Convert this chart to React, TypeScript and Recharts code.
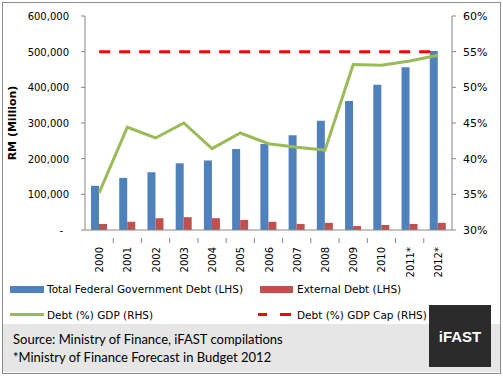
import { ComposedChart, Bar, Line, XAxis, YAxis } from "recharts";

const years = ["2000", "2001", "2002", "2003", "2004", "2005", "2006", "2007", "2008", "2009", "2010", "2011*", "2012*"];
const totalDebt = [124000, 146000, 162000, 187000, 195000, 227000, 241000, 266000, 306000, 362000, 407000, 456000, 502000];
const externalDebt = [17000, 23000, 33000, 36000, 33000, 28000, 23000, 17000, 20000, 11000, 14000, 17000, 20000];
const debtToGdp = [35.2, 44.4, 42.9, 45.0, 41.4, 43.6, 42.1, 41.6, 41.2, 53.2, 53.1, 53.7, 54.5];
const debtCap = [55, 55, 55, 55, 55, 55, 55, 55, 55, 55, 55, 55, 55];
const leftTicks = [0, 100000, 200000, 300000, 400000, 500000, 600000];
const rightTicks = [30, 35, 40, 45, 50, 55, 60];

const data = years.map((year, i) => ({
  year,
  total: totalDebt[i],
  external: externalDebt[i],
  ratio: debtToGdp[i],
  cap: debtCap[i],
}));

const AXIS = "#868686";
const FONT = "'DejaVu Sans', Verdana, sans-serif";

function LeftTick(props: any) {
  const { x, y, payload } = props;
  const zero = payload.value === 0;
  return (
    <text x={zero ? x - 6 : x} y={y} dy={4} textAnchor="end" fontSize={10} fontFamily={FONT} fill="#000">
      {zero ? "-" : payload.value.toLocaleString("en-US")}
    </text>
  );
}

function YearTick(props: any) {
  const { x, y, payload, index } = props;
  const step = 367 / years.length;
  return (
    <g>
      {index < years.length - 1 && (
        <line x1={x + step / 2} x2={x + step / 2} y1={y} y2={y + 5} stroke={AXIS} />
      )}
      <text
        x={x}
        y={y + 9}
        dy={4}
        textAnchor="end"
        fontSize={10}
        fontFamily={FONT}
        fill="#000"
        transform={`rotate(-90, ${x}, ${y + 9})`}
      >
        {payload.value}
      </text>
    </g>
  );
}

export default function App() {
  return (
    <div style={{ position: "absolute", left: 0, top: 0, width: 503, height: 378, background: "#fff", fontFamily: FONT }}>
      <div style={{ position: "absolute", left: 2, top: 2, width: 497, height: 370, border: "1px solid #8c8c8c" }} />
      <div style={{ position: "absolute", left: 3, top: 324, width: 497, height: 48, background: "#e6e6e6" }} />

      <div style={{ position: "absolute", left: 0, top: 0 }}>
        <ComposedChart
          width={503}
          height={300}
          data={data}
          margin={{ top: 16, right: 0, left: 0, bottom: 30 }}
          barGap={0}
        >
          <XAxis
            dataKey="year"
            xAxisId={0}
            height={40}
            interval={0}
            tickLine={false}
            axisLine={{ stroke: AXIS }}
            tick={<YearTick />}
          />
          <YAxis
            yAxisId="left"
            width={85}
            domain={[0, 600000]}
            ticks={leftTicks}
            tickSize={4}
            tickMargin={12}
            axisLine={{ stroke: AXIS }}
            tickLine={{ stroke: AXIS }}
            tick={<LeftTick />}
            label={{
              value: "RM (Million)",
              angle: -90,
              position: "insideLeft",
              offset: 12,
              style: { textAnchor: "middle", fontWeight: "bold", fontSize: 11, fontFamily: FONT, fill: "#000" },
            }}
          />
          <YAxis
            yAxisId="right"
            orientation="right"
            width={51}
            domain={[30, 60]}
            ticks={rightTicks}
            tickSize={4}
            tickMargin={7}
            axisLine={{ stroke: AXIS }}
            tickLine={{ stroke: AXIS }}
            tick={{ fontSize: 11, fontFamily: FONT, fill: "#000" }}
            tickFormatter={(v: number) => `${v}%`}
          />
          <Bar yAxisId="left" dataKey="total" fill="#4F81BD" barSize={8} isAnimationActive={false} />
          <Bar yAxisId="left" dataKey="external" fill="#C0504D" barSize={8} isAnimationActive={false} />
          <Line
            yAxisId="right"
            dataKey="ratio"
            type="linear"
            stroke="#9BBB59"
            strokeWidth={3}
            dot={false}
            isAnimationActive={false}
          />
          <Line
            yAxisId="right"
            dataKey="cap"
            type="linear"
            stroke="#FF0000"
            strokeWidth={3}
            strokeDasharray="11 9"
            dot={false}
            isAnimationActive={false}
          />
        </ComposedChart>
      </div>

      {/* legend */}
      <div style={{ position: "absolute", left: 10, top: 286, width: 34, height: 7, background: "#4F81BD" }} />
      <div style={{ position: "absolute", left: 47, top: 282, fontSize: 10.5, lineHeight: "14px" }}>
        Total Federal Government Debt (LHS)
      </div>
      <div style={{ position: "absolute", left: 260, top: 286, width: 33, height: 7, background: "#C0504D" }} />
      <div style={{ position: "absolute", left: 297, top: 282, fontSize: 10.5, lineHeight: "14px" }}>
        External Debt (LHS)
      </div>
      <div style={{ position: "absolute", left: 10, top: 313, width: 34, height: 3, background: "#9BBB59" }} />
      <div style={{ position: "absolute", left: 47, top: 308, fontSize: 10.5, lineHeight: "14px" }}>
        Debt (%) GDP (RHS)
      </div>
      <div style={{ position: "absolute", left: 258, top: 313, width: 9, height: 3, background: "#FF0000" }} />
      <div style={{ position: "absolute", left: 280, top: 313, width: 11, height: 3, background: "#FF0000" }} />
      <div style={{ position: "absolute", left: 297, top: 308, fontSize: 10.5, lineHeight: "14px" }}>
        Debt (%) GDP Cap (RHS)
      </div>

      {/* footer */}
      <div style={{ position: "absolute", left: 13, top: 330, fontSize: 13, lineHeight: "18px", fontFamily: "Lato, 'Open Sans', sans-serif", color: "#000" }}>
        <div>Source: Ministry of Finance, iFAST compilations</div>
        <div>*Ministry of Finance Forecast in Budget 2012</div>
      </div>

      <div
        style={{
          position: "absolute",
          left: 429,
          top: 305,
          width: 62,
          height: 62,
          background: "#2b2b2b",
          color: "#fff",
          fontFamily: "'Liberation Sans', Arial, sans-serif",
          fontWeight: "bold",
          fontSize: 15,
          display: "flex",
          alignItems: "center",
          justifyContent: "center",
        }}
      >
        iFAST
      </div>
    </div>
  );
}
